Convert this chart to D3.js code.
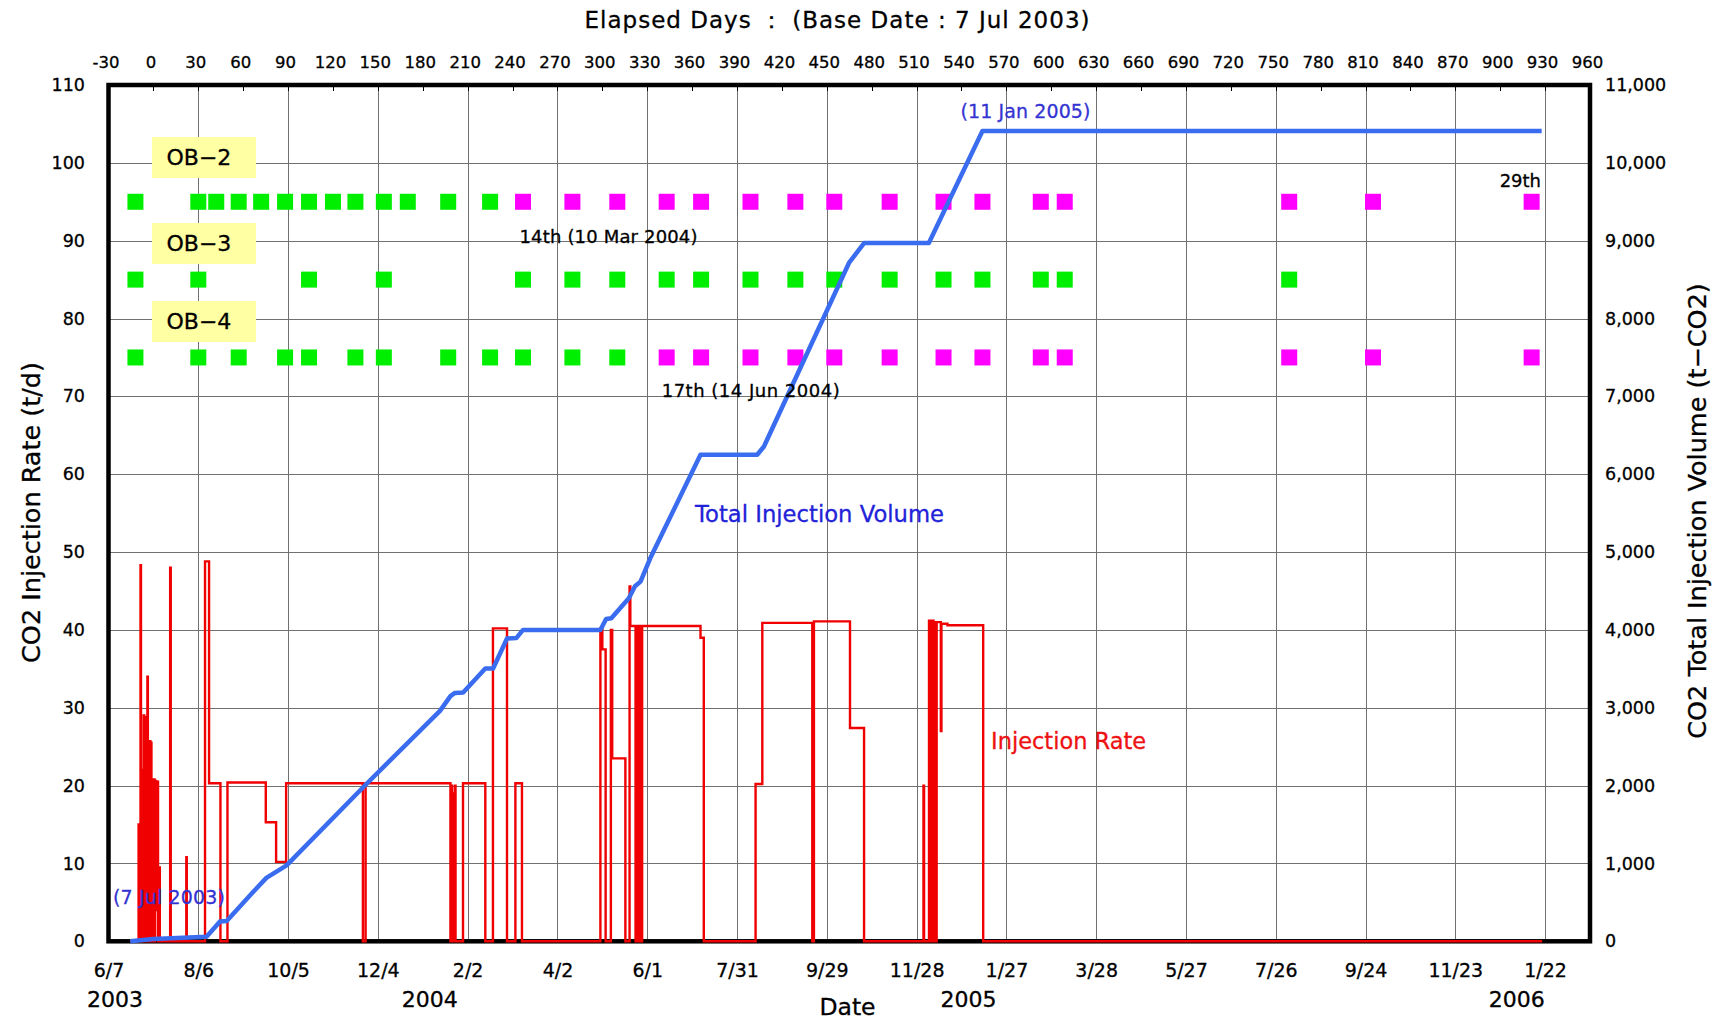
<!DOCTYPE html>
<html>
<head>
<meta charset="utf-8">
<script src="https://cdn.jsdelivr.net/npm/d3@7"></script>
<style>
  html, body { margin: 0; padding: 0; background: #fff; }
  svg { display: block; font-family: "DejaVu Sans", "Liberation Sans", sans-serif; }
  svg text { stroke: currentColor; stroke-width: 0.3px; }
</style>
</head>
<body>
<svg id="chart" width="1719" height="1020"></svg>
<script>
// ---- Data (x values are elapsed days from the base date 7 Jul 2003) ----
const baseDate = "2003-07-07";

const elapsedTicks = [-30, 0, 30, 60, 90, 120, 150, 180, 210, 240, 270, 300, 330, 360,
  390, 420, 450, 480, 510, 540, 570, 600, 630, 660, 690, 720, 750, 780, 810, 840, 870,
  900, 930, 960];
const dateTicks = ["2003-06-07", "2003-08-06", "2003-10-05", "2003-12-04", "2004-02-02",
  "2004-04-02", "2004-06-01", "2004-07-31", "2004-09-29", "2004-11-28", "2005-01-27",
  "2005-03-28", "2005-05-27", "2005-07-26", "2005-09-24", "2005-11-23", "2006-01-22"];
const rateTicks = [0, 10, 20, 30, 40, 50, 60, 70, 80, 90, 100, 110];
const volumeTicks = [0, 1000, 2000, 3000, 4000, 5000, 6000, 7000, 8000, 9000, 10000, 11000];
const years = ["2003", "2004", "2005", "2006"];

// Injection rate (t/d), held from each day until the next entry
const injectionRate = [
  [-15.5, 0],
  [-9.9, 15], [-9.6, 0], [-8.6, 48.3], [-8.3, 0], [-7.9, 19.5], [-7.6, 0],
  [-7.1, 22], [-6.8, 3], [-6.5, 29], [-6.1, 0], [-5.7, 20], [-5.4, 28.8], [-5.1, 0],
  [-4.7, 18], [-4.4, 0], [-4.0, 34], [-3.7, 0], [-3.3, 19.5], [-3.0, 0],
  [-2.6, 25.7], [-2.0, 12], [-1.7, 25.5], [-1.3, 0], [-1.0, 20.5], [-0.4, 0],
  [-0.1, 20.8], [0.8, 0], [1.1, 20.6], [1.9, 4], [2.2, 20.5], [3.1, 0],
  [3.4, 9.5], [4.3, 0], [11.2, 48.0], [11.6, 0], [22.0, 10.8], [22.3, 0],
  [34.5, 48.8], [37.2, 20.3], [44.8, 0], [49.5, 20.4], [75.1, 15.3], [82.0, 10.2],
  [88.7, 20.3], [140.0, 0], [141.8, 20.3],
  [198.5, 0], [199.2, 20], [199.6, 0], [200.4, 19], [200.8, 0], [201.5, 20], [201.9, 0],
  [206.9, 20.3], [221.8, 0], [226.9, 40.2], [236.3, 0], [241.9, 20.3], [246.3, 0],
  [298.7, 40.2], [300.0, 37.5], [302.2, 0], [305.7, 40], [306.6, 23.5], [315.4, 0],
  [318.2, 45.6], [318.7, 40.5], [322.2, 0], [322.6, 40.5], [323.1, 0], [323.6, 40.5],
  [324.1, 0], [324.7, 40.5], [325.2, 0], [325.7, 40.5], [326.2, 0], [326.6, 40.5],
  [365.6, 39], [367.8, 0], [402.4, 20.2], [406.9, 40.9], [440.3, 0], [441.4, 41.1],
  [465.5, 27.4], [474.9, 0],
  [514.6, 20], [515.0, 0], [518.3, 41.2], [519.7, 0], [520.1, 41.2], [521.3, 0],
  [521.7, 41], [523.0, 0], [523.4, 41], [526.2, 27], [526.6, 40.8], [530.6, 40.6],
  [554.5, 0], [928, 0]
];

// Cumulative injected CO2 (t)
const totalVolume = [
  [-15.5, 0], [0, 30], [20, 45], [35.5, 58], [44.5, 255], [49, 262], [66, 620],
  [75.5, 815], [89, 975], [141.5, 2005], [191.5, 2960], [198.5, 3150], [201.5, 3190],
  [207, 3195], [221.8, 3505], [227, 3505], [236.3, 3890], [242.5, 3895], [247, 4000],
  [298.7, 4000], [302.5, 4140], [306, 4150], [317.7, 4406], [321.8, 4560], [325.5, 4620],
  [332, 4920], [365.6, 6250], [403.5, 6250], [408, 6356], [464.8, 8714], [474.9, 8970],
  [518.2, 8970], [554, 10410], [927.7, 10410]
];

// Logging surveys per observation well: green = no CO2 signal, magenta = CO2 detected
const ob2Green = [-12, 30, 42, 57, 72, 88, 104, 120, 135, 154, 170, 197, 225];
const ob2Magenta = [247, 280, 310, 343, 366, 399, 429, 455, 492, 528, 554, 593, 609, 759, 815, 921];
const ob3Green = [-12, 30, 104, 154, 247, 280, 310, 343, 366, 399, 429, 455, 492, 528, 554, 593, 609, 759];
const ob3Magenta = [];
const ob4Green = [-12, 30, 57, 88, 104, 135, 154, 197, 225, 247, 280, 310];
const ob4Magenta = [343, 366, 399, 429, 455, 492, 528, 554, 593, 609, 759, 815, 921];

const wellNames = ["OB−2", "OB−3", "OB−4"];
const wellRows = [95, 85, 75];

// ---- Layout ----
const L = 108.5, R = 1590, T = 85, B = 941.3;
const svg = d3.select("#chart");
const msDay = 86400000;
const base = d3.utcParse("%Y-%m-%d")(baseDate);
const toDate = d => new Date(base.getTime() + d * msDay);
const parseDate = d3.utcParse("%Y-%m-%d");

const x = d3.scaleLinear().domain([-30, 960]).range([L, R]);
const xDate = d3.scaleUtc().domain([toDate(-30), toDate(960)]).range([L, R]);
const yL = d3.scaleLinear().domain([0, 110]).range([B, T]);
const yR = d3.scaleLinear().domain([0, 11000]).range([B, T]);

const crisp = v => Math.round(v) + 0.5;

// Grid
const grid = svg.append("g").attr("stroke", "#707070").attr("stroke-width", 1)
  .attr("shape-rendering", "crispEdges");
grid.selectAll("line.v").data(dateTicks.slice(1)).join("line").attr("class", "v")
  .attr("x1", d => crisp(xDate(parseDate(d)))).attr("x2", d => crisp(xDate(parseDate(d))))
  .attr("y1", T).attr("y2", B);
grid.selectAll("line.h").data(rateTicks.slice(1, -1)).join("line").attr("class", "h")
  .attr("x1", L).attr("x2", R)
  .attr("y1", d => crisp(yL(d))).attr("y2", d => crisp(yL(d)));

// Top tick marks (every 30 elapsed days), pointing into the plot
svg.append("g").attr("stroke", "#000").attr("stroke-width", 1)
  .selectAll("line").data(elapsedTicks.slice(1, -1)).join("line")
  .attr("x1", d => crisp(x(d))).attr("x2", d => crisp(x(d)))
  .attr("y1", T).attr("y2", T + 6);

// Well label boxes
const boxTops = [137, 223, 301];
const boxes = svg.append("g");
wellNames.forEach((name, i) => {
  boxes.append("rect").attr("x", L + 43.5).attr("y", boxTops[i])
    .attr("width", 104).attr("height", 41).attr("fill", "#ffffa3");
  boxes.append("text").attr("x", L + 58).attr("y", boxTops[i] + 27.5)
    .attr("font-size", 22).attr("fill", "#000").attr("color", "#000").text(name);
});

// Survey markers
const surveys = [
  [ob2Green, ob2Magenta], [ob3Green, ob3Magenta], [ob4Green, ob4Magenta]
];
const marks = svg.append("g");
surveys.forEach(([green, magenta], i) => {
  const row = wellRows[i];
  marks.append("g").attr("fill", "#00ee00").selectAll("rect").data(green).join("rect")
    .attr("x", d => x(d) - 8).attr("y", yL(row) - 8).attr("width", 16).attr("height", 16);
  marks.append("g").attr("fill", "#ff00ff").selectAll("rect").data(magenta).join("rect")
    .attr("x", d => x(d) - 8).attr("y", yL(row) - 8).attr("width", 16).attr("height", 16);
});

// Frame
svg.append("rect").attr("x", L).attr("y", T).attr("width", R - L).attr("height", B - T)
  .attr("fill", "none").attr("stroke", "#000").attr("stroke-width", 4.5);

// Injection rate
const rateLine = d3.line().x(d => x(d[0])).y(d => yL(d[1])).curve(d3.curveStepAfter);
svg.append("path").datum(injectionRate).attr("d", rateLine)
  .attr("fill", "none").attr("stroke", "#f00000").attr("stroke-width", 2.4)
  .attr("stroke-linejoin", "miter");

// Total injection volume
const volLine = d3.line().x(d => x(d[0])).y(d => yR(d[1]));
svg.append("path").datum(totalVolume).attr("d", volLine)
  .attr("fill", "none").attr("stroke", "#3a6cf0").attr("stroke-width", 4.5)
  .attr("stroke-linejoin", "round");

// Axes
function styleAxis(g, size) {
  g.attr("font-family", null).attr("font-size", size);
  g.select(".domain").remove();
  g.selectAll(".tick line").remove();
  g.selectAll("text").attr("fill", "#000").attr("color", "#000");
}
svg.append("g").attr("transform", `translate(0,${T})`)
  .call(d3.axisTop(x).tickValues(elapsedTicks).tickSize(0).tickPadding(17)
    .tickFormat(d => String(d)))
  .call(g => styleAxis(g, 16.5))
  .call(g => g.selectAll("text").attr("dx", -3));

svg.append("g").attr("transform", `translate(0,${B})`)
  .call(d3.axisBottom(xDate).tickValues(dateTicks.map(parseDate)).tickSize(0).tickPadding(22.5)
    .tickFormat(d3.utcFormat("%-m/%-d")))
  .call(g => styleAxis(g, 19));

svg.append("g").attr("transform", `translate(${L},0)`)
  .call(d3.axisLeft(yL).tickValues(rateTicks).tickSize(0).tickPadding(23.5))
  .call(g => styleAxis(g, 17.5));

svg.append("g").attr("transform", `translate(${R},0)`)
  .call(d3.axisRight(yR).tickValues(volumeTicks).tickSize(0).tickPadding(15)
    .tickFormat(d3.format(",")))
  .call(g => styleAxis(g, 17.5));

// Year labels under the date axis
const yearX = [L + 6.5, xDate(parseDate("2004-01-01")) + 10, xDate(parseDate("2005-01-01")) + 1,
  xDate(parseDate("2006-01-01")) + 3];
svg.append("g").attr("font-size", 22).attr("text-anchor", "middle").attr("fill", "#000")
  .attr("color", "#000")
  .selectAll("text").data(years).join("text")
  .attr("x", (d, i) => yearX[i]).attr("y", 1006.5).text(d => d);

// Titles
const titles = svg.append("g").attr("fill", "#000").attr("color", "#000");
titles.append("text").attr("x", 837).attr("y", 28.3).attr("text-anchor", "middle")
  .attr("font-size", 23).attr("textLength", 505)
  .text("Elapsed Days ： (Base Date : 7 Jul 2003)");
titles.append("text").attr("x", 847.5).attr("y", 1015).attr("text-anchor", "middle")
  .attr("font-size", 23.5).text("Date");
titles.append("text").attr("transform", "translate(39.5,512.5) rotate(-90)")
  .attr("text-anchor", "middle").attr("font-size", 25.5)
  .text("CO2 Injection Rate (t/d)");
titles.append("text").attr("transform", "translate(1706,511) rotate(-90)")
  .attr("text-anchor", "middle").attr("font-size", 25.5)
  .text("CO2 Total Injection Volume (t−CO2)");

// Annotations
const notes = svg.append("g");
notes.append("text").attr("x", x(-27)).attr("y", 904).attr("font-size", 19)
  .attr("fill", "#3434d2").attr("color", "#3434d2").attr("textLength", 112).text("(7 Jul 2003)");
notes.append("text").attr("x", x(554) - 22).attr("y", 118).attr("font-size", 19)
  .attr("fill", "#3434d2").attr("color", "#3434d2").attr("textLength", 130).text("(11 Jan 2005)");
notes.append("text").attr("x", 519.5).attr("y", 243).attr("font-size", 18)
  .attr("fill", "#000").attr("color", "#000").attr("textLength", 178).text("14th (10 Mar 2004)");
notes.append("text").attr("x", 661.7).attr("y", 397).attr("font-size", 18)
  .attr("fill", "#000").attr("color", "#000").attr("textLength", 178).text("17th (14 Jun 2004)");
notes.append("text").attr("x", 1541).attr("y", 187).attr("text-anchor", "end")
  .attr("font-size", 18).attr("fill", "#000").attr("color", "#000").text("29th");
notes.append("text").attr("x", 695).attr("y", 521.5).attr("font-size", 22.7)
  .attr("fill", "#2222d8").attr("color", "#2222d8").text("Total Injection Volume");
notes.append("text").attr("x", 991).attr("y", 749).attr("font-size", 22.5)
  .attr("fill", "#ee1111").attr("color", "#ee1111").text("Injection Rate");
</script>
</body>
</html>
